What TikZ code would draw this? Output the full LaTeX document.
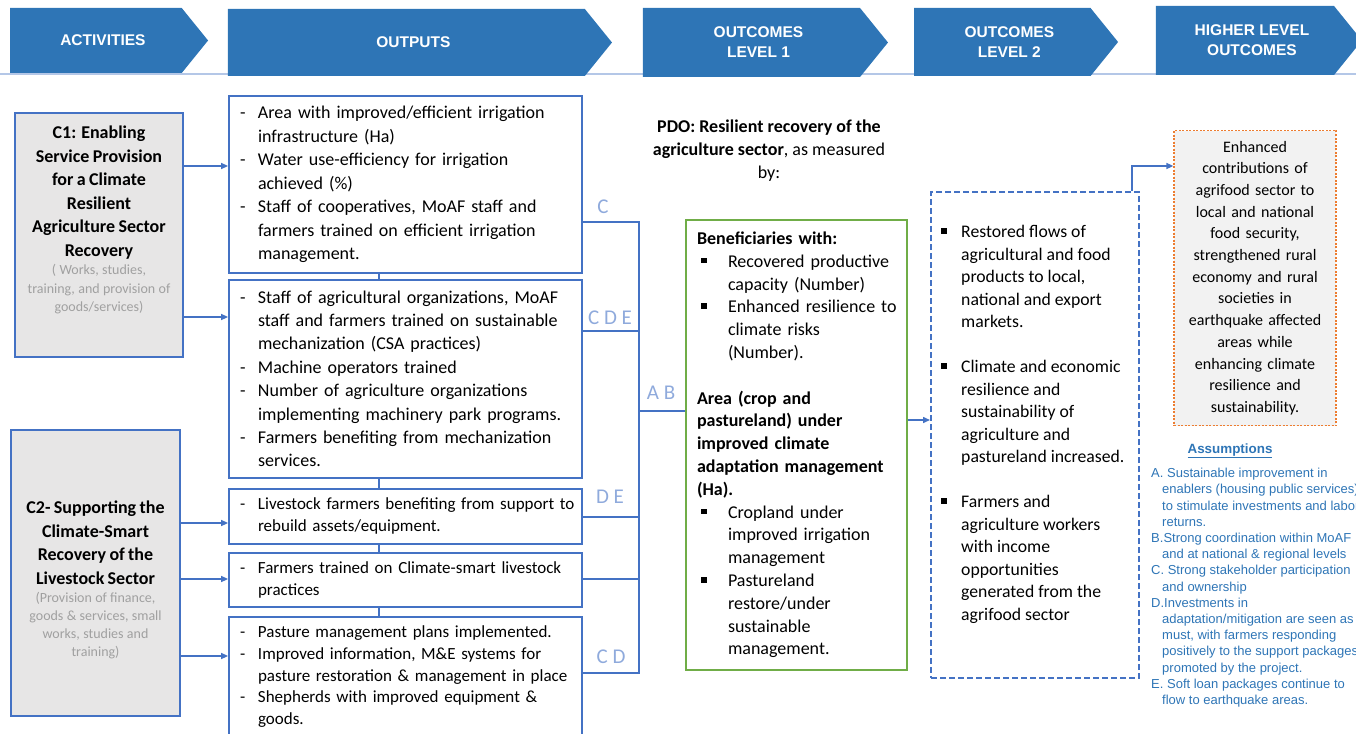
\documentclass[tikz,border=0pt]{standalone}
\usepackage{fontspec}
\setmainfont{Carlito}
\newfontfamily\arialfont{Liberation Sans}
\definecolor{hdrblue}{RGB}{46,117,182}
\definecolor{boxblue}{RGB}{68,114,196}
\definecolor{tagblue}{RGB}{143,170,220}
\definecolor{ruleblue}{RGB}{180,199,231}
\definecolor{compgray}{RGB}{231,230,230}
\definecolor{notegray}{RGB}{160,160,160}
\definecolor{pdogreen}{RGB}{112,173,71}
\definecolor{hlorange}{RGB}{237,125,49}
\definecolor{hlfill}{RGB}{242,242,242}
\usetikzlibrary{
  arrows.meta,
  positioning,
  shapes.symbols,
}
\tikzset{
  >={Triangle[length=7pt,width=6pt]},
  header/.style={signal,signal to=east,signal pointer angle=102,fill=hdrblue,
    text=white,align=center,inner sep=0pt,
    font=\arialfont\bfseries\fontsize{15.5}{20}\selectfont},
  compbox/.style={draw=boxblue,line width=1.6pt,fill=compgray},
  outbox/.style={draw=boxblue,line width=1.8pt,text width=331pt,inner xsep=11pt,
    inner ysep=0pt,align=left,minimum width=353pt},
  link/.style={draw=boxblue,line width=1.8pt},
  arr/.style={->,draw=boxblue,line width=1.5pt},
  tag/.style={text=tagblue,inner sep=0pt,font=\fontsize{21}{24}\selectfont},
}
% one printed line each, so nothing re-wraps
\newcommand\hdrline[1]{\hspace*{14pt}#1}
\newcommand\dashitem[1]{\mbox{\makebox[18pt][l]{-}#1}}
\newcommand\contline[2]{\mbox{\hspace*{#1}#2}}
\newcommand\sqitem[2]{\mbox{\makebox[#1][l]{\rule[4pt]{5.5pt}{5.5pt}}#2}}

\begin{document}
\begin{tikzpicture}[x=1pt,y=1pt]
  \useasboundingbox (0,0) rectangle (1356,-733);

  % header band
  \draw[ruleblue,line width=1.5pt] (0,-74) -- (1356,-74);
  \node[header,minimum width=198pt,minimum height=65pt] (act)  at (95.9,-40.5)   {\hdrline{ACTIVITIES}};
  \node[header,minimum width=384pt,minimum height=67pt] (outp) at (406.4,-42.5)  {\hdrline{OUTPUTS}};
  \node[header,minimum width=245pt,minimum height=69pt] (lvl1) at (751.5,-42.5)  {\hdrline{OUTCOMES}\\\hdrline{LEVEL 1}};
  \node[header,minimum width=204pt,minimum height=68pt] (lvl2) at (1002.3,-42)   {\hdrline{OUTCOMES}\\\hdrline{LEVEL 2}};
  \node[header,minimum width=206pt,minimum height=69pt] (high) at (1245,-40.5)   {\hdrline{HIGHER LEVEL}\\\hdrline{OUTCOMES}};

  % components
  \node[compbox,minimum width=168pt,minimum height=244pt] (c1) at (99,-235) {};
  \node[compbox,minimum width=169pt,minimum height=286pt] (c2) at (95.5,-573) {};
  \node[anchor=north,inner sep=0pt,text width=165pt,align=center] (c1text) at ([yshift=-13.5pt]c1.north)
    {{\bfseries\fontsize{18}{23.5}\selectfont C1: Enabling\\Service Provision\\for a Climate\\Resilient\\Agriculture Sector\\Recovery\par}
     {\color{notegray}\fontsize{14}{18.5}\selectfont ( Works, studies,\\training, and provision of\\goods/services)\par}};
  \node[anchor=north,inner sep=0pt,text width=165pt,align=center] (c2text) at ([yshift=-71.5pt]c2.north)
    {{\bfseries\fontsize{18}{23.5}\selectfont C2- Supporting the\\Climate-Smart\\Recovery of the\\Livestock Sector\par}
     {\color{notegray}\fontsize{14}{18}\selectfont (Provision of finance,\\goods \& services, small\\works, studies and\\training)\par}};

  % outputs
  \node[outbox,minimum height=177pt,font=\fontsize{18}{23.5}\selectfont] (o1) at (405.5,-184.5)
    {\dashitem{Area with improved/efficient irrigation}\\
     \contline{18pt}{infrastructure (Ha)}\\
     \dashitem{Water use-efficiency for irrigation}\\
     \contline{18pt}{achieved (\%)}\\
     \dashitem{Staff of cooperatives, MoAF staff and}\\
     \contline{18pt}{farmers trained on efficient irrigation}\\
     \contline{18pt}{management.}};
  \node[outbox,minimum height=198pt,font=\fontsize{18}{23.4}\selectfont,below=5pt of o1] (o2)
    {\dashitem{Staff of agricultural organizations, MoAF}\\
     \contline{18pt}{staff and farmers trained on sustainable}\\
     \contline{18pt}{mechanization (CSA practices)}\\
     \dashitem{Machine operators trained}\\
     \dashitem{Number of agriculture organizations}\\
     \contline{18pt}{implementing machinery park programs.}\\
     \dashitem{Farmers benefiting from mechanization}\\
     \contline{18pt}{services.}};
  \node[outbox,minimum height=55pt,font=\fontsize{17}{22}\selectfont,below=9pt of o2] (o3)
    {\dashitem{Livestock farmers benefiting from support to}\\
     \contline{18pt}{rebuild assets/equipment.}};
  \node[outbox,minimum height=54pt,font=\fontsize{17}{22}\selectfont,below=7.5pt of o3] (o4)
    {\dashitem{Farmers trained on Climate-smart livestock}\\
     \contline{18pt}{practices}};
  \node[outbox,minimum height=120pt,font=\fontsize{17}{21.8}\selectfont,below=8pt of o4] (o5)
    {\dashitem{Pasture management plans implemented.}\\
     \dashitem{Improved information, M\&E systems for}\\
     \contline{18pt}{pasture restoration \& management in place}\\
     \dashitem{Shepherds with improved equipment \&}\\
     \contline{18pt}{goods.}};

  \coordinate (spine) at (379,0);
  \draw[link,line width=1.2pt] (o1.south -| spine) -- (o2.north -| spine);
  \draw[link,line width=1.2pt] (o2.south -| spine) -- (o3.north -| spine);
  \draw[link,line width=1.2pt] (o3.south -| spine) -- (o4.north -| spine);
  \draw[link,line width=1.2pt] (o4.south -| spine) -- (o5.north -| spine);

  \draw[arr] (c1.east |- 0,-166) -- (o1.west |- 0,-166);
  \draw[arr] (c1.east |- 0,-317) -- (o2.west |- 0,-317);
  \draw[arr] (c2.east |- 0,-523) -- (o3.west |- 0,-523);
  \draw[arr] (c2.east |- 0,-579) -- (o4.west |- 0,-579);
  \draw[arr] (c2.east |- 0,-656) -- (o5.west |- 0,-656);

  % PDO
  \node[align=center,inner sep=0pt,font=\fontsize{18}{23}\selectfont] (pdotitle) at (769,-151)
    {\textbf{PDO: Resilient recovery of the}\\\textbf{agriculture sector}, as measured\\by:};
  \node[draw=pdogreen,line width=1.8pt,minimum width=221pt,minimum height=450pt,text width=199pt,
    inner xsep=11pt,inner ysep=0pt,align=left,font=\fontsize{18}{22.8}\selectfont] (pdo) at (796.5,-445)
    {\textbf{Beneficiaries with:}\\
     \contline{4pt}{\sqitem{27pt}{Recovered productive}}\\
     \contline{31pt}{capacity (Number)}\\
     \contline{4pt}{\sqitem{27pt}{Enhanced resilience to}}\\
     \contline{31pt}{climate risks}\\
     \contline{31pt}{(Number).}\\[22.8pt]
     \textbf{Area (crop and}\\
     \textbf{pastureland) under}\\
     \textbf{improved climate}\\
     \mbox{\textbf{adaptation management}}\\
     \textbf{(Ha).}\\
     \contline{4pt}{\sqitem{27pt}{Cropland under}}\\
     \contline{31pt}{improved irrigation}\\
     \contline{31pt}{management}\\
     \contline{4pt}{\sqitem{27pt}{Pastureland}}\\
     \contline{31pt}{restore/under}\\
     \contline{31pt}{sustainable}\\
     \contline{31pt}{management.}};

  % links from the outputs to the PDO
  \coordinate (bus) at (639,0);
  \draw[link] (o1.east |- 0,-222) -- (bus |- 0,-222) -- (bus |- 0,-673) -- (o5.east |- 0,-673);
  \draw[link] (o2.east |- 0,-331) -- (bus |- 0,-331);
  \draw[link] (o3.east |- 0,-517) -- (bus |- 0,-517);
  \draw[link] (o4.east |- 0,-579) -- (bus |- 0,-579);
  \draw[link] (bus |- 0,-411) -- (pdo.west |- 0,-411);
  \node[tag] (tc)   at (603,-207) {C};
  \node[tag] (tcde) at (610,-318) {C D E};
  \node[tag] (tab)  at (661,-393) {A B};
  \node[tag] (tde)  at (610,-497) {D E};
  \node[tag] (tcd)  at (611,-657) {C D};

  % outcomes level 2
  \node[draw=boxblue,line width=2pt,dash pattern=on 6pt off 3pt,minimum width=208pt,minimum height=486pt] (rest) at (1035,-435) {};
  \node[anchor=north west,inner sep=0pt,align=left,font=\fontsize{17.7}{22.5}\selectfont] (resttext) at ([xshift=11pt,yshift=-34.5pt]rest.north west)
    {\sqitem{20pt}{Restored flows of}\\
     \contline{20pt}{agricultural and food}\\
     \contline{20pt}{products to local,}\\
     \contline{20pt}{national and export}\\
     \contline{20pt}{markets.}\\[22.5pt]
     \sqitem{20pt}{Climate and economic}\\
     \contline{20pt}{resilience and}\\
     \contline{20pt}{sustainability of}\\
     \contline{20pt}{agriculture and}\\
     \contline{20pt}{pastureland increased.}\\[22.5pt]
     \sqitem{20pt}{Farmers and}\\
     \contline{20pt}{agriculture workers}\\
     \contline{20pt}{with income}\\
     \contline{20pt}{opportunities}\\
     \contline{20pt}{generated from the}\\
     \contline{20pt}{agrifood sector}};
  \draw[arr] (pdo.east |- 0,-420) -- (rest.west |- 0,-420);

  % higher level
  \node[draw=hlorange,fill=hlfill,line width=1.3pt,dash pattern=on 2pt off 1.5pt,minimum width=162pt,
    minimum height=295pt,text width=150pt,align=center,font=\fontsize{16}{21.7}\selectfont] (hl) at (1255,-278)
    {Enhanced\\contributions of\\agrifood sector to\\local and national\\food security,\\strengthened rural\\economy and rural\\societies in\\earthquake affected\\areas while\\enhancing climate\\resilience and\\sustainability.};
  \coordinate (up) at (1132,-166);
  \draw[arr] (rest.north -| up) |- (hl.west |- up);

  % assumptions
  \node[text=hdrblue,inner sep=0pt,font=\arialfont\bfseries\fontsize{13.4}{16}\selectfont] (asm) at (1230,-451) {\underline{Assumptions}};
  \node[anchor=north west,inner sep=0pt,align=left,text=hdrblue,font=\arialfont\fontsize{13}{16.2}\selectfont] (asmlist) at (1151,-468)
    {A. Sustainable improvement in\\
     \contline{11pt}{enablers (housing public services)}\\
     \contline{11pt}{to stimulate investments and labor}\\
     \contline{11pt}{returns.}\\
     B.Strong coordination within MoAF\\
     \contline{11pt}{and at national \& regional levels}\\
     C. Strong stakeholder participation\\
     \contline{11pt}{and ownership}\\
     D.Investments in\\
     \contline{11pt}{adaptation/mitigation are seen as}\\
     \contline{11pt}{must, with farmers responding}\\
     \contline{11pt}{positively to the support packages}\\
     \contline{11pt}{promoted by the project.}\\
     E. Soft loan packages continue to\\
     \contline{11pt}{flow to earthquake areas.}};
\end{tikzpicture}
\end{document}
